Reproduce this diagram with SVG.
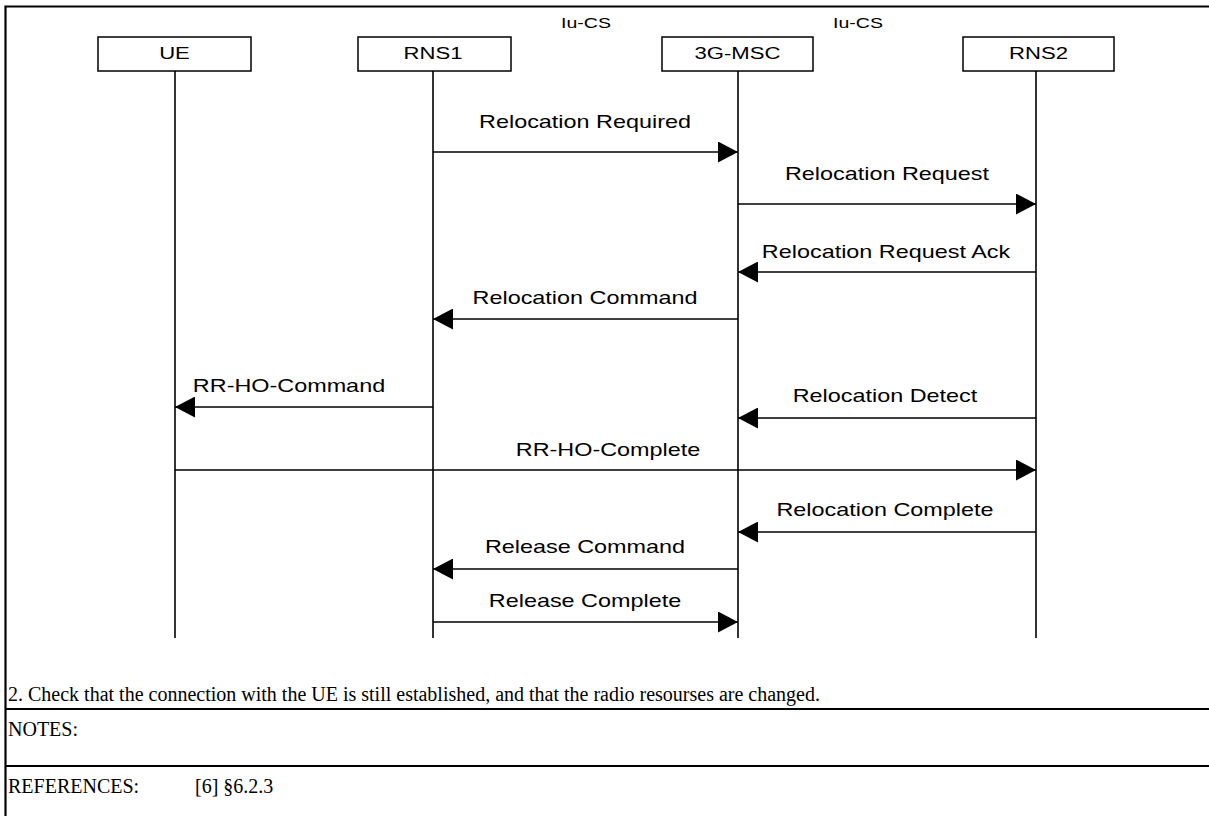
<svg xmlns="http://www.w3.org/2000/svg" width="1209" height="816" viewBox="0 0 1209 816">
  <style>
    .box { fill: #fff; stroke: #000; stroke-width: 1.5; }
    .life { stroke: #000; stroke-width: 1.6; fill: none; }
    .msg { stroke: #000; stroke-width: 1.6; fill: none; marker-end: url(#head); }
    .frame { stroke: #000; stroke-width: 2.2; fill: none; }
    .lbl { font-family: "Liberation Sans", Arial, sans-serif; font-size: 17px; text-anchor: middle; fill: #000; }
    .mtx { font-family: "Liberation Sans", Arial, sans-serif; font-size: 18px; text-anchor: middle; fill: #000; }
    .itf { font-family: "Liberation Sans", Arial, sans-serif; font-size: 15px; text-anchor: middle; fill: #000; }
    .tbl { font-family: "Liberation Serif", "Times New Roman", serif; font-size: 20px; fill: #000; }
  </style>
  <defs>
    <marker id="head" viewBox="0 0 20 21" refX="20" refY="10.5" markerWidth="20" markerHeight="21" markerUnits="userSpaceOnUse" orient="auto">
      <path d="M0,0 L20,10.5 L0,21 Z" fill="#000"/>
    </marker>
  </defs>
  <rect width="1209" height="816" fill="#fff"/>

  <!-- table frame and row rules -->
  <g id="frame">
    <path class="frame" d="M5.5,816 V6.5 H1209"/>
    <line class="frame" x1="5" y1="709" x2="1209" y2="709"/>
    <line class="frame" x1="5" y1="766" x2="1209" y2="766"/>
  </g>

  <!-- entities -->
  <g id="ue">
    <rect class="box" x="98" y="37" width="153" height="34"/>
    <text class="lbl" transform="translate(174.5,59) scale(1.3,1)">UE</text>
    <line class="life" x1="175" y1="71" x2="175" y2="638"/>
  </g>
  <g id="rns1">
    <rect class="box" x="358" y="37" width="153" height="34"/>
    <text class="lbl" transform="translate(433,59) scale(1.3,1)">RNS1</text>
    <line class="life" x1="433" y1="71" x2="433" y2="638"/>
  </g>
  <g id="msc">
    <rect class="box" x="662" y="37" width="151" height="34"/>
    <text class="lbl" transform="translate(737.5,59) scale(1.3,1)">3G-MSC</text>
    <line class="life" x1="738" y1="71" x2="738" y2="638"/>
  </g>
  <g id="rns2">
    <rect class="box" x="963" y="37" width="151" height="34"/>
    <text class="lbl" transform="translate(1038.5,59) scale(1.3,1)">RNS2</text>
    <line class="life" x1="1036" y1="71" x2="1036" y2="638"/>
  </g>
  <g id="interfaces">
    <text class="itf" transform="translate(586,28) scale(1.3,1)">Iu-CS</text>
    <text class="itf" transform="translate(858,28) scale(1.3,1)">Iu-CS</text>
  </g>

  <!-- messages -->
  <g id="connectors">
    <line class="msg" x1="433" y1="152" x2="738" y2="152"/>
    <line class="msg" x1="738" y1="204" x2="1036" y2="204"/>
    <line class="msg" x1="1036" y1="272" x2="738" y2="272"/>
    <line class="msg" x1="738" y1="319" x2="433" y2="319"/>
    <line class="msg" x1="433" y1="407" x2="175" y2="407"/>
    <line class="msg" x1="1036" y1="418" x2="738" y2="418"/>
    <line class="msg" x1="175" y1="470" x2="1036" y2="470"/>
    <line class="msg" x1="1036" y1="532" x2="738" y2="532"/>
    <line class="msg" x1="738" y1="569" x2="433" y2="569"/>
    <line class="msg" x1="433" y1="622" x2="738" y2="622"/>
  </g>
  <g id="labels">
    <text class="mtx" transform="translate(585,128) scale(1.3,1)">Relocation Required</text>
    <text class="mtx" transform="translate(887,180) scale(1.3,1)">Relocation Request</text>
    <text class="mtx" transform="translate(886,258) scale(1.3,1)">Relocation Request Ack</text>
    <text class="mtx" transform="translate(585,304) scale(1.3,1)">Relocation Command</text>
    <text class="mtx" transform="translate(289,392) scale(1.3,1)">RR-HO-Command</text>
    <text class="mtx" transform="translate(885,402) scale(1.3,1)">Relocation Detect</text>
    <text class="mtx" transform="translate(608,456) scale(1.3,1)">RR-HO-Complete</text>
    <text class="mtx" transform="translate(885,516) scale(1.3,1)">Relocation Complete</text>
    <text class="mtx" transform="translate(585,553) scale(1.3,1)">Release Command</text>
    <text class="mtx" transform="translate(585,607) scale(1.3,1)">Release Complete</text>
  </g>

  <!-- table text -->
  <g id="table-text">
    <text class="tbl" x="8" y="701">2. Check that the connection with the UE is still established, and that the radio resourses are changed.</text>
    <text class="tbl" x="8" y="736">NOTES:</text>
    <text class="tbl" x="8" y="793">REFERENCES:</text>
    <text class="tbl" x="195" y="793">[6] §6.2.3</text>
  </g>
</svg>
